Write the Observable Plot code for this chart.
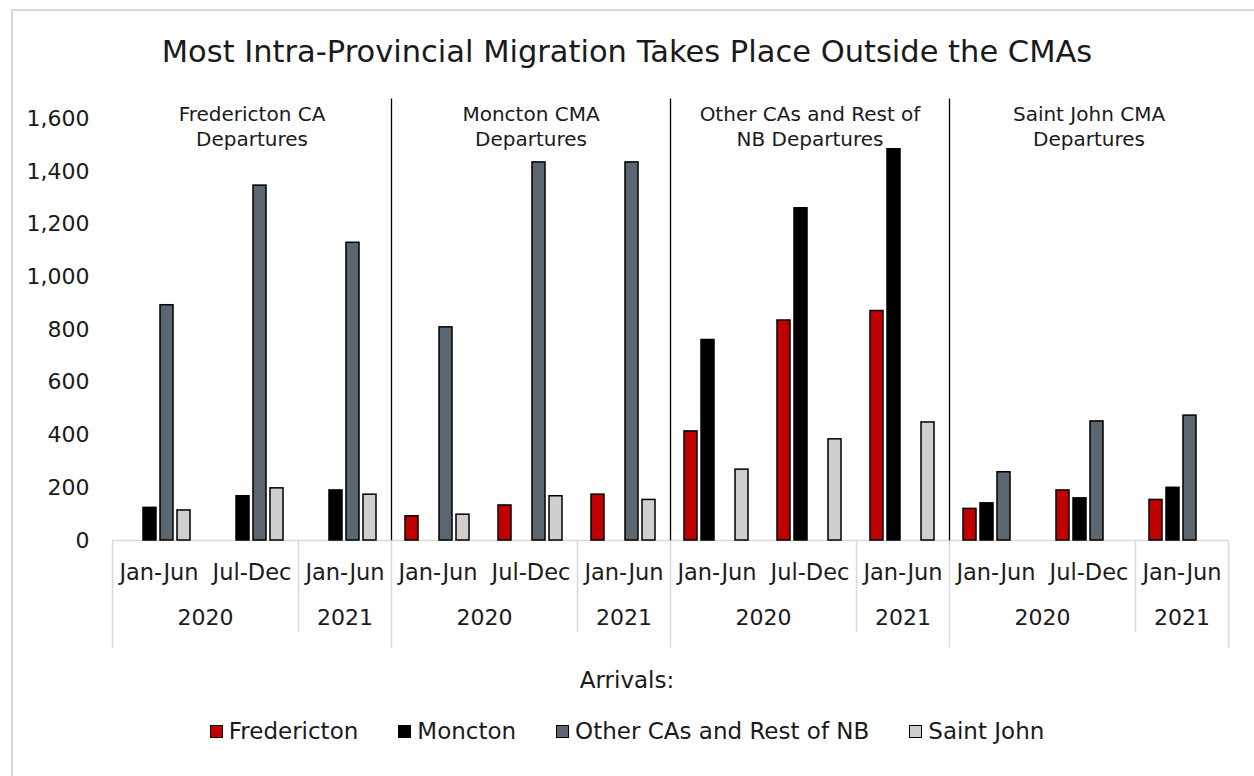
<!DOCTYPE html>
<html>
<head>
<meta charset="utf-8">
<script src="https://cdn.jsdelivr.net/npm/d3@7"></script>
<script src="https://cdn.jsdelivr.net/npm/@observablehq/plot@0.6"></script>
<style>
  html, body { margin: 0; padding: 0; background: #fff; }
  body { width: 1254px; height: 776px; position: relative; overflow: hidden; font-family: "DejaVu Sans", sans-serif; color: #1a1a1a; }
  #border { position: absolute; left: 11px; top: 9px; width: 1300px; height: 800px; border-left: 2px solid #d9d9d9; border-top: 2px solid #d9d9d9; pointer-events: none; }
  #title { height: 80px; box-sizing: border-box; padding-top: 33px; text-align: center; font-size: 30.5px; line-height: 38px; }
  #chart svg { display: block; }
  #arrivals { margin-top: 10px; text-align: center; font-size: 23px; line-height: 30px; }
  #legend { margin-top: 21px; display: flex; justify-content: center; gap: 40px; font-size: 23px; line-height: 30px; }
  .item { display: flex; align-items: center; }
  .sw { width: 11px; height: 11px; border: 1.5px solid #000; margin-right: 6px; }
</style>
</head>
<body>
<div id="border"></div>
<div id="title">Most Intra-Provincial Migration Takes Place Outside the CMAs</div>
<div id="chart"></div>
<div id="arrivals">Arrivals:</div>
<div id="legend"></div>
<script>
// ---- data ----
const groups = ["Fredericton CA", "Moncton CMA", "Other CAs and Rest of NB", "Saint John CMA"];
const groupTitles = ["Fredericton CA\nDepartures", "Moncton CMA\nDepartures", "Other CAs and Rest of\nNB Departures", "Saint John CMA\nDepartures"];
const periods = ["Jan-Jun 2020", "Jul-Dec 2020", "Jan-Jun 2021"];
const periodLabels = ["Jan-Jun", "Jul-Dec", "Jan-Jun"];
const yearLabels = ["2020", "2021"];
const series = ["Fredericton", "Moncton", "Other CAs and Rest of NB", "Saint John"];
const colors = ["#c00000", "#000000", "#5b6670", "#d0cece"];
const yTicks = [0, 200, 400, 600, 800, 1000, 1200, 1400, 1600];
// values in order: group (departure) x period
const fredericton = [null, null, null, 92, 133, 174, 414, 835, 871, 120, 190, 154];
const moncton     = [124, 168, 190, null, null, null, 761, 1261, 1485, 141, 160, 200];
const otherCAs    = [893, 1347, 1130, 809, 1435, 1435, null, null, null, 259, 452, 474];
const saintJohn   = [114, 198, 174, 98, 168, 154, 269, 384, 448, null, null, null];
const seriesValues = [fredericton, moncton, otherCAs, saintJohn];

// ---- derived tables ----
const keyOf = (g, p) => g + "|" + p;
const fxDomain = groups.flatMap(g => periods.map(p => keyOf(g, p)));
const rows = [];
series.forEach((s, si) => {
  groups.forEach((g, gi) => {
    periods.forEach((p, pi) => {
      const v = seriesValues[si][gi * 3 + pi];
      if (v != null) rows.push({key: keyOf(g, p), series: s, value: v});
    });
  });
});
const periodRows = groups.flatMap((g, gi) => periods.map((p, pi) => ({key: keyOf(g, p), label: periodLabels[pi], gi, pi})));
const titleRows = groups.map((g, gi) => ({key: keyOf(g, periods[1]), text: groupTitles[gi]}));
const lineShape = {draw(context, l) { context.moveTo(0, 0); context.lineTo(0, -l); }};
const grayLine = "#d9d9d9";

const chart = Plot.plot({
  width: 1254,
  height: 575,
  marginTop: 20,
  marginBottom: 115,
  marginLeft: 111,
  marginRight: 25,
  style: {fontFamily: "DejaVu Sans, sans-serif", fontSize: "22px", color: "#1a1a1a", background: "white", overflow: "visible"},
  fx: {domain: fxDomain, padding: 0, axis: null},
  x: {domain: series, paddingInner: 0.22, paddingOuter: 0.8, axis: null},
  y: {domain: [0, 1670], ticks: yTicks, tickSize: 0, tickPadding: 23, tickFormat: d3.format(","), label: null},
  color: {domain: series, range: colors},
  marks: [
    Plot.ruleY([0], {stroke: grayLine, strokeWidth: 1.5}),
    Plot.barY(rows, {fx: "key", x: "series", y: "value", fill: "series", stroke: "#000", strokeWidth: 1.5}),
    // black dividers between departure groups
    Plot.vector(periodRows.filter(d => d.pi === 0 && d.gi > 0), {fx: "key", frameAnchor: "bottom-left", anchor: "start", rotate: 0, length: 442, shape: lineShape, stroke: "#000", strokeWidth: 1.3, strokeLinecap: "butt"}),
    // gray category axis lines below the baseline
    Plot.vector(periodRows.filter(d => d.pi === 0), {fx: "key", frameAnchor: "bottom-left", anchor: "start", rotate: 180, length: 107, shape: lineShape, stroke: grayLine, strokeWidth: 1.5, strokeLinecap: "butt"}),
    Plot.vector(periodRows.filter(d => d.pi === 2 && d.gi === groups.length - 1), {fx: "key", frameAnchor: "bottom-right", anchor: "start", rotate: 180, length: 107, shape: lineShape, stroke: grayLine, strokeWidth: 1.5, strokeLinecap: "butt"}),
    Plot.vector(periodRows.filter(d => d.pi === 2), {fx: "key", frameAnchor: "bottom-left", anchor: "start", rotate: 180, length: 92, shape: lineShape, stroke: grayLine, strokeWidth: 1.5, strokeLinecap: "butt"}),
    // period labels
    Plot.text(periodRows, {fx: "key", text: "label", frameAnchor: "bottom", lineAnchor: "middle", dy: 32, fontSize: 22.5, fill: "#1a1a1a"}),
    // year labels
    Plot.text(periodRows.filter(d => d.pi === 0), {fx: "key", text: () => yearLabels[0], frameAnchor: "bottom-right", textAnchor: "middle", lineAnchor: "middle", dy: 77, fontSize: 22, fill: "#1a1a1a"}),
    Plot.text(periodRows.filter(d => d.pi === 2), {fx: "key", text: () => yearLabels[1], frameAnchor: "bottom", lineAnchor: "middle", dy: 77, fontSize: 22, fill: "#1a1a1a"}),
    // departure group titles
    Plot.text(titleRows, {fx: "key", text: "text", frameAnchor: "top", lineAnchor: "top", dy: 3, fontSize: 20, lineHeight: 1.25, fill: "#1a1a1a"})
  ]
});
document.getElementById("chart").appendChild(chart);

const legend = document.getElementById("legend");
series.forEach((s, i) => {
  const item = document.createElement("div");
  item.className = "item";
  const sw = document.createElement("span");
  sw.className = "sw";
  sw.style.background = colors[i];
  const t = document.createElement("span");
  t.textContent = s;
  item.appendChild(sw);
  item.appendChild(t);
  legend.appendChild(item);
});
</script>
</body>
</html>
